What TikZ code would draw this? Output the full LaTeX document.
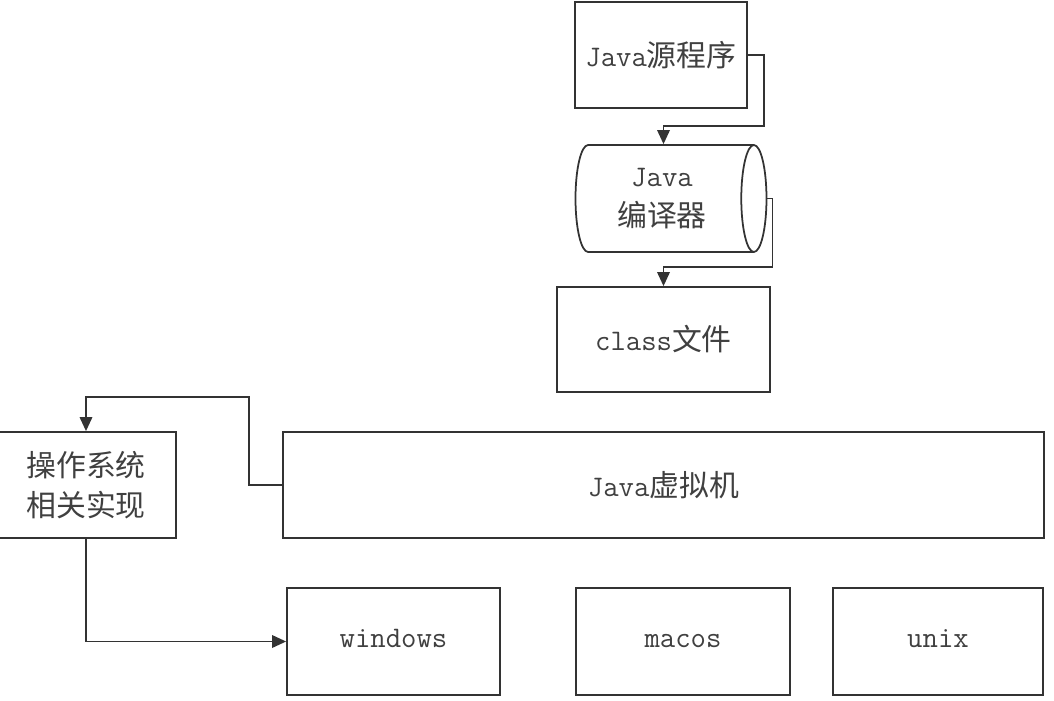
\documentclass[tikz,border=0pt]{standalone}
\usepackage{fontspec}
\newfontfamily\cjk{Noto Sans CJK SC}
\usetikzlibrary{arrows.meta,shapes.geometric,calc}
\definecolor{figdark}{gray}{0.2}
\definecolor{figtext}{gray}{0.25}
\newcommand{\zh}[1]{{\cjk #1}}
\tikzset{
  box/.style={
    rectangle, draw=figdark, line width=1pt, text=figtext,
    align=center, inner sep=2pt,
    font=\ttfamily\fontsize{17}{23}\selectfont
  },
  drum/.style={
    box, cylinder, aspect=0.37,
    minimum width=2.14cm, minimum height=3.82cm
  },
  platform/.style={
    box, minimum height=2.14cm, text height=2.2ex, text depth=0.6ex
  },
  link/.style={-{Triangle[length=2.8mm,width=2.5mm]}, line width=1pt, draw=figdark}
}

\begin{document}
\begin{tikzpicture}
  \useasboundingbox (0,0) rectangle (21.08,-14);

  % compile chain
  \node[box, minimum width=3.44cm, minimum height=2.12cm] (src) at (13.22,-1.10) {Java\zh{源程序}};
  \node[drum] (comp) at (13.24,-3.97) {Java\\\zh{编译器}};
  \node[box, minimum width=4.26cm, minimum height=2.10cm] (cls) at (13.27,-6.79) {class\zh{文件}};

  % virtual machine and platforms
  \node[box, minimum width=15.22cm, minimum height=2.12cm] (jvm) at (13.27,-9.70) {Java\zh{虚拟机}};
  \node[box, minimum width=3.60cm, minimum height=2.12cm] (os) at (1.72,-9.70) {\zh{操作系统}\\\zh{相关实现}};
  \node[platform, minimum width=4.26cm] (win) at (7.87,-12.83) {windows};
  \node[platform, minimum width=4.28cm] (mac) at (13.66,-12.83) {macos};
  \node[platform, minimum width=4.20cm] (unix) at (18.76,-12.83) {unix};

  \draw[link] (src.east) -- ++(0.32,0) |- ($(comp.north -| cls.north)+(0,0.36)$) -- (comp.north -| cls.north);
  \draw[link] (comp.east) -- ++(0.10,0) |- ($(cls.north)+(0,0.38)$) -- (cls.north);
  \draw[link] (jvm.west) -- ++(-0.66,0) |- ($(os.north)+(0,0.68)$) -- (os.north);
  \draw[link] (os.south) |- (win.west);
\end{tikzpicture}
\end{document}
